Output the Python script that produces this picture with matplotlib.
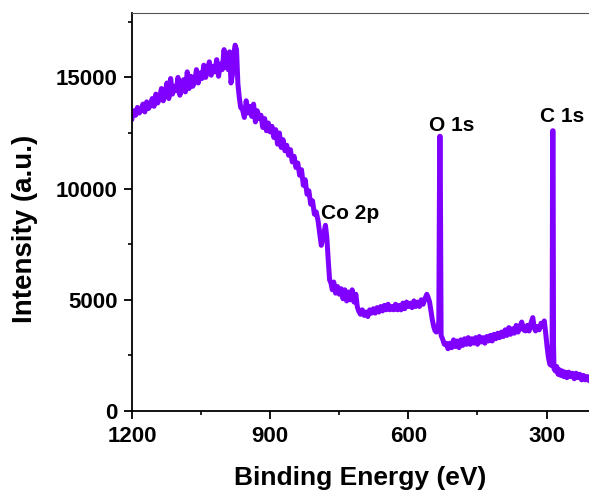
import numpy as np
import matplotlib
matplotlib.use("Agg")
import matplotlib.pyplot as plt

plt.rcParams['font.family'] = ['Liberation Sans', 'DejaVu Sans']
plt.rcParams['font.weight'] = 'bold'

# binding energy (eV) and intensity (a.u.)
energy = [1200, 1196, 1192, 1188, 1184, 1180, 1176, 1172, 1168, 1164, 1160, 1156, 1152, 1148,
          1144, 1140, 1136, 1132, 1128, 1124, 1120, 1116, 1112, 1108, 1104, 1100, 1096, 1092,
          1088, 1084, 1080, 1076, 1072, 1068, 1064, 1060, 1056, 1052, 1048, 1044, 1040, 1036,
          1032, 1028, 1024, 1020, 1016, 1012, 1008, 1004, 1000, 997, 994, 991, 988, 985, 982,
          979, 976, 973, 970, 967, 964,
          960, 956, 952, 948, 944, 940, 936, 932, 928, 924, 920, 916, 912, 908, 904, 900,
          896, 892, 888, 884, 880, 876, 872, 868, 864, 860, 856, 852, 848, 844, 840, 836,
          832, 828, 824, 820, 816, 812, 808, 804, 800, 796, 792, 789, 786, 783, 780, 777,
          774, 771, 768, 765, 762, 758, 754, 750, 746, 742, 738, 734, 730, 726, 722, 718,
          714, 711, 708, 704, 700, 696, 692, 688, 684, 680, 676, 672, 668, 664, 660, 656,
          652, 648, 644, 640, 636, 632, 628, 624, 620, 616, 612, 608, 604, 600, 596, 592,
          588, 584, 580, 576, 572, 568, 564, 560, 557, 554, 551, 548, 545, 542, 539, 536,
          534, 533, 532, 531, 530, 529, 526, 522, 518, 514, 510, 506, 502, 498, 494, 490,
          486, 482, 478, 474, 470, 466, 462, 458, 454, 450, 446, 442, 438, 434, 430, 426,
          422, 418, 414, 410, 406, 402, 398, 394, 390, 386, 382, 378, 374, 370, 366, 362,
          358, 354, 350, 346, 342, 338, 334, 330, 327, 324, 320, 316, 312, 308, 305, 302,
          299, 296, 293, 290, 288, 287, 286, 285, 284, 281, 278, 275, 272, 269, 266, 263,
          260, 256, 252, 248, 244, 240, 236, 232, 228, 224, 220, 216, 212, 208]
intensity = [13150, 13500, 13300, 13650, 13400, 13550, 13800, 13450, 13900, 13600, 13750, 14050,
             13700, 14250, 13850, 14100, 14500, 13950, 14300, 14750, 14050, 14950, 14250, 14600,
             14400, 15000, 14200, 14450, 14900, 14350, 15250, 14500, 15050, 14600, 14800, 15350,
             14750, 15200, 14950, 15550, 15000, 15350, 15700, 15100, 15500, 15250, 15800, 15050,
             15600, 15350, 16250, 15450, 16050, 15350, 16150, 14750, 15100, 16050, 16450, 16250,
             14700, 14100, 13650,
             13550, 13200, 13950, 13400, 13700, 13250, 13800, 13000, 13500, 13150, 13300, 12750,
             13150, 12600, 12950, 12550, 12800, 12300, 12650, 12000, 12500, 11850, 12200, 11700,
             11950, 11500, 11750, 11200, 11450, 10950, 11150, 10600, 10850, 10150, 10400, 9750,
             9900, 9300, 9450, 8850, 8950, 8550, 7900, 7450, 7750, 8050, 8350, 7800,
             6800, 5900, 5750, 5450, 5800, 5300, 5600, 5250, 5500, 5050, 5450, 4950, 5350, 5000,
             5450, 4900, 5250, 4700, 4500, 4350, 4550, 4300, 4450, 4250, 4550, 4400, 4600, 4400,
             4650, 4450, 4700, 4500, 4750, 4550, 4800, 4550, 4700, 4550, 4800, 4550, 4750, 4550,
             4850, 4600, 4900, 4700, 4850, 4650, 4950, 4700, 4900, 4700, 5000, 4800, 5050, 5250,
             5100, 4900, 4500, 4100, 3800, 3600, 3550, 3650, 4000, 8000, 12350, 12350, 8000, 3400,
             3250, 3000, 3050, 2800, 3050, 2850, 3200, 2900, 3150, 2850, 3200, 2950, 3250, 3000,
             3300, 3000, 3250, 3050, 3300, 3000, 3350, 3100, 3300, 3050, 3350, 3150, 3400, 3150,
             3450, 3250, 3500, 3300, 3550, 3350, 3650, 3400, 3750, 3450, 3700, 3500, 3850, 3550,
             3800, 4000, 3650, 3600, 3850, 3600, 3950, 4200, 3750, 3600, 3800, 3650, 3950, 3800,
             4050, 3500, 2900, 2400, 2100, 2050, 3000, 12600, 12600, 3000, 1900, 1800, 2000, 1650,
             1850, 1600, 1800, 1550, 1750, 1500, 1750, 1550, 1700, 1450, 1700, 1500, 1650, 1400,
             1600, 1400, 1550, 1400]

peak_labels = ['Co 2p', 'O 1s', 'C 1s']
label_x = [790, 507, 266]
label_y = [8620, 12580, 12980]
label_ha = ['left', 'center', 'center']

fig = plt.figure(figsize=(5.89, 4.97), dpi=100)
ax = fig.add_axes([0.224, 0.173, 0.776, 0.801])

ax.plot(energy, intensity, color='#8000ff', lw=3.6, solid_joinstyle='round')

for lab, x, y, ha in zip(peak_labels, label_x, label_y, label_ha):
    ax.text(x, y, lab, ha=ha, va='baseline', fontsize=15, fontweight='bold')

ax.set_xlim(1200, 208)
ax.set_ylim(0, 17900)
ax.set_xticks([1200, 900, 600, 300])
ax.set_xticks([1050, 750, 450], minor=True)
ax.set_yticks([0, 5000, 10000, 15000])
ax.set_yticks([2500, 7500, 12500, 17500], minor=True)

ax.spines['right'].set_visible(False)
ax.spines['top'].set_color('#555555')
ax.spines['left'].set_linewidth(1.3)
ax.spines['bottom'].set_linewidth(1.3)
ax.tick_params(which='major', direction='out', length=5.5, width=1.3, labelsize=16, pad=5)
ax.tick_params(which='minor', direction='out', length=3, width=1.2)
ax.tick_params(top=False, right=False)

ax.set_xlabel('Binding Energy (eV)', fontsize=19, fontweight='bold', labelpad=14)
ax.set_ylabel('Intensity (a.u.)', fontsize=20, fontweight='bold')
ax.yaxis.set_label_coords(-0.206, 0.457)

fig.savefig('out.png', dpi=100)
